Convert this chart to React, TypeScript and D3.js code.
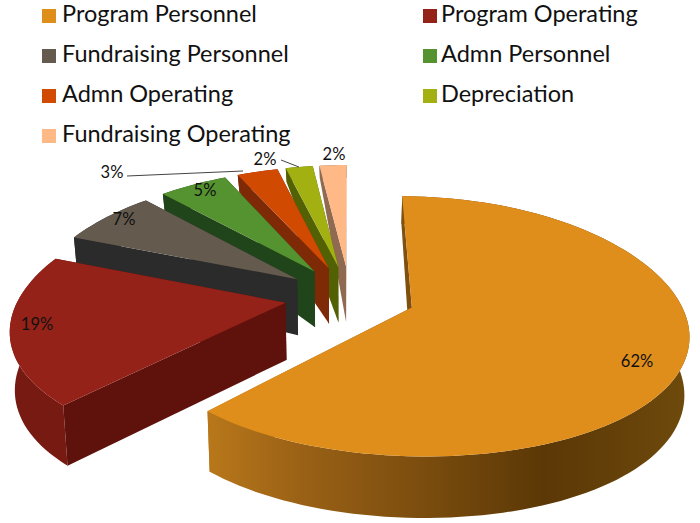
import React from "react";
import * as d3 from "d3";

const categories = ["Program Personnel","Program Operating","Fundraising Personnel","Admn Personnel","Admn Operating","Depreciation","Fundraising Operating"];
const values = [62,19,7,5,3,2,2];
const topColors = ["#E08E1B","#952218","#645A4E","#559230","#D14A02","#A3B012","#FFB987"];
const wallColors = ["url(#orangeWall)","#5F120C","#2B2B2B","#21451A","#7E2A06","#536105","#8F6A50"];
const rimColors = ["url(#orangeWall)","#761A12","#2B2B2B","#21451A","#7E2A06","#536105","#8F6A50"];
const labels = ["62%","19%","7%","5%","3%","2%","2%"];
const labelX = [637,37,124,205,112,265,334];
const labelY = [361,324,219,190,172,159,154];

const W = 700, H = 523;
const x0 = 350, y0 = 296, a = 266, b = 124, f = 6.94, fx = 5.5, explode = 0.246, k = 0.985;
const depth = d3.scaleLinear().domain([-1.3,-0.3,0,1.2]).range([10,55,57,62]).clamp(true);

const pie = d3.pie<number>().sort(null).startAngle(0).endAngle(2*Math.PI);
const arcs = pie(values);
const line = d3.line<[number,number]>();

function top(X:number,Z:number):[number,number]{
  return [x0+a*X*(fx/(fx-Z)),y0+b*Z*(f/(f-Z))];
}
function bot(X:number,Z:number):[number,number]{
  const p=top(X,Z);
  return [x0+(p[0]-x0)*k,p[1]+depth(Z)];
}

export default function App(){
  const order = d3.range(arcs.length).reverse();
  return (
    <svg width={W} height={H} style={{position:"absolute",left:0,top:0,background:"#fff"}}>
      <defs>
        <linearGradient id="orangeWall" gradientUnits="userSpaceOnUse" x1={205} x2={690} y1={0} y2={0}>
          <stop offset="0" stopColor="#B9781A"/>
          <stop offset="0.2" stopColor="#9A6116"/>
          <stop offset="0.7" stopColor="#5B3806"/>
          <stop offset="1" stopColor="#6E4A0C"/>
        </linearGradient>
      </defs>
      {categories.map((c,i)=>{
        const col=i%2,row=Math.floor(i/2);
        const sx=col===0?42:423;
        const tx=col===0?62:441;
        const cy=15+row*40;
        return <g key={c}>
          <rect x={sx} y={cy-6} width={14} height={14} fill={topColors[i]}/>
          <text x={tx} y={cy+7} fontFamily="Lato" fontSize={23.5} fill="#111">{c}</text>
        </g>;
      })}
      {order.map(i=>{
        const d=arcs[i];
        const mid=(d.startAngle+d.endAngle)/2;
        const ox=Math.sin(mid)*explode, oz=-Math.cos(mid)*explode;
        const n=Math.max(4,Math.ceil((d.endAngle-d.startAngle)*30));
        const ts=d3.range(n+1).map(j=>d.startAngle+(d.endAngle-d.startAngle)*j/n);
        const rim=ts.map(t=>[ox+Math.sin(t),oz-Math.cos(t)] as [number,number]);
        const apex:[number,number]=[ox,oz];
        const topPath=line([top(...apex),...rim.map(p=>top(...p))])+"Z";
        const rimWall=line([...rim.map(p=>top(...p)),...rim.slice().reverse().map(p=>bot(...p))])+"Z";
        const e0=rim[0], e1=rim[rim.length-1];
        const wall=(e:[number,number])=>line([top(...apex),top(...e),bot(...e),bot(...apex)])+"Z";
        return <g key={i}>
          <path d={rimWall} fill={rimColors[i]}/>
          <path d={wall(e0)} fill={wallColors[i]}/>
          <path d={wall(e1)} fill={wallColors[i]}/>
          <path d={topPath} fill={topColors[i]}/>
        </g>;
      })}
      <path d="M127,176 L243,171" stroke="#444" strokeWidth={1} fill="none"/>
      <path d="M281,160 L299,167" stroke="#444" strokeWidth={1} fill="none"/>
      {labels.map((l,i)=><text key={i} x={labelX[i]} y={labelY[i]} textAnchor="middle" dominantBaseline="central" fontFamily="Lato" fontSize={16.5} fill="#111">{l}</text>)}
    </svg>
  );
}
